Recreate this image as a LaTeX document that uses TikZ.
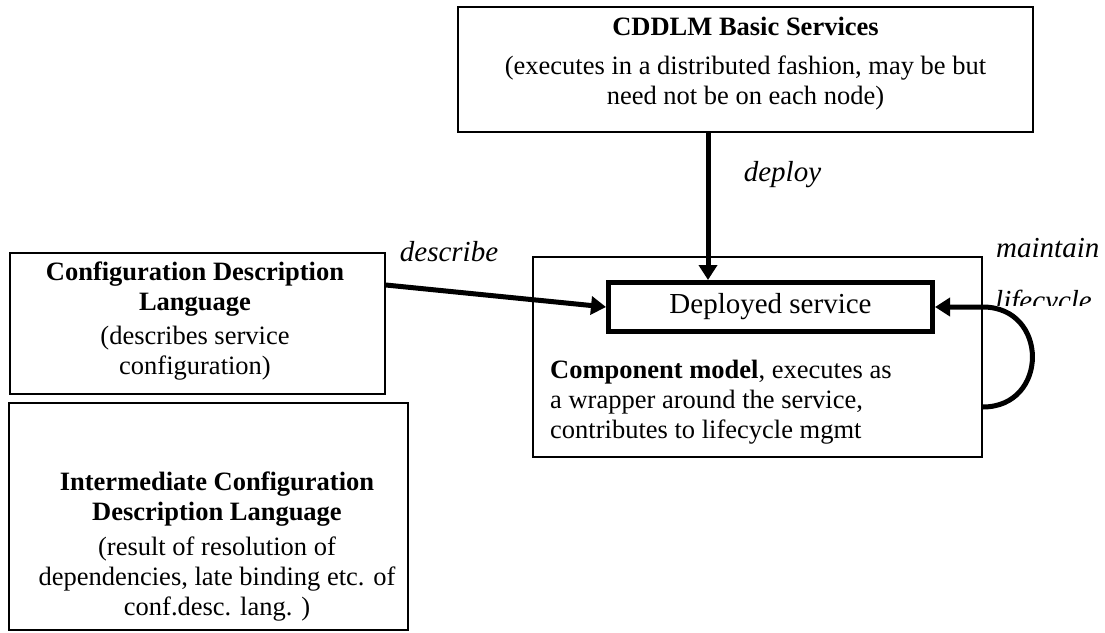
\documentclass[tikz,border=0pt]{standalone}
\usepackage{fontspec}
\setmainfont{Liberation Serif}
\usetikzlibrary{arrows.meta}
\begin{document}
\begin{tikzpicture}[x=1pt, y=-1pt,
  frame/.style={draw, line width=1.5pt, inner sep=0pt},
  heavy/.style={draw, line width=5pt, inner sep=0pt,
    font=\fontsize{29}{33}\selectfont},
  body/.style={font=\fontsize{26.5}{30}\selectfont, align=center, inner sep=0pt},
  leftbody/.style={font=\fontsize{26.5}{30}\selectfont, align=left, inner sep=0pt},
  verb/.style={font=\fontsize{29}{33}\selectfont\itshape, inner sep=0pt},
  flow/.style={line width=5pt, -{Triangle[length=15pt,width=18pt]}}
]
\useasboundingbox (0,0) rectangle (1105,632);

% boxes
\node[frame, minimum width=575pt, minimum height=125pt] (cddlm) at (745.5,69.5) {};
\node[frame, minimum width=375pt, minimum height=141pt] (cdl) at (197.5,323.5) {};
\node[frame, minimum width=399pt, minimum height=227pt] (icdl) at (208.5,516.5) {};
\node[frame, minimum width=449pt, minimum height=200pt] (comp) at (757.5,357) {};
\node[heavy, minimum width=324pt, minimum height=49pt] (dep) at (770.5,307) {Deployed service};

% box texts
\node[body] (cddlmtxt) at (745.5,64)
  {\textbf{CDDLM Basic Services}\\[9pt]
   (executes in a distributed fashion, may be but\\
   need not be on each node)};
\node[body] (cdltxt) at (195,321)
  {\textbf{Configuration Description}\\
   \textbf{Language}\\[4pt]
   (describes service\\
   configuration)};
\node[body] (icdltxt) at (217,547)
  {\textbf{Intermediate Configuration}\\
   \textbf{Description Language}\\[5pt]
   (result of resolution of\\
   dependencies, late binding etc. of\\
   conf.desc. lang. )};
\node[leftbody, anchor=west] (comptxt) at (550,402)
  {\textbf{Component model}, executes as\\
   a wrapper around the service,\\
   contributes to lifecycle mgmt};

% connector labels
\node[verb] (lbldescribe) at (449,252) {describe};
\node[verb] (lbldeploy) at (782.5,175) {deploy};
\node[verb, anchor=west] (lblmaintain) at (996,248) {maintain};
\begin{scope}
  \clip (990,270) rectangle (1105,305);
  \node[verb, anchor=west] (lbllifecycle) at (995,303) {lifecycle};
\end{scope}

% connectors
\coordinate (deployx) at (708,0);
\coordinate (describey) at (0,285);
\coordinate (loopy) at (0,407);
\coordinate (loopturn) at (comp.east |- dep.east);
\draw[flow] (cddlm.south -| deployx) -- (dep.north -| deployx);
\draw[flow] (cdl.east |- describey) -- (dep.west);
\draw[flow] (comp.east |- loopy) .. controls (1049,407) and (1049,307) .. (loopturn) -- (dep.east);
\end{tikzpicture}
\end{document}
